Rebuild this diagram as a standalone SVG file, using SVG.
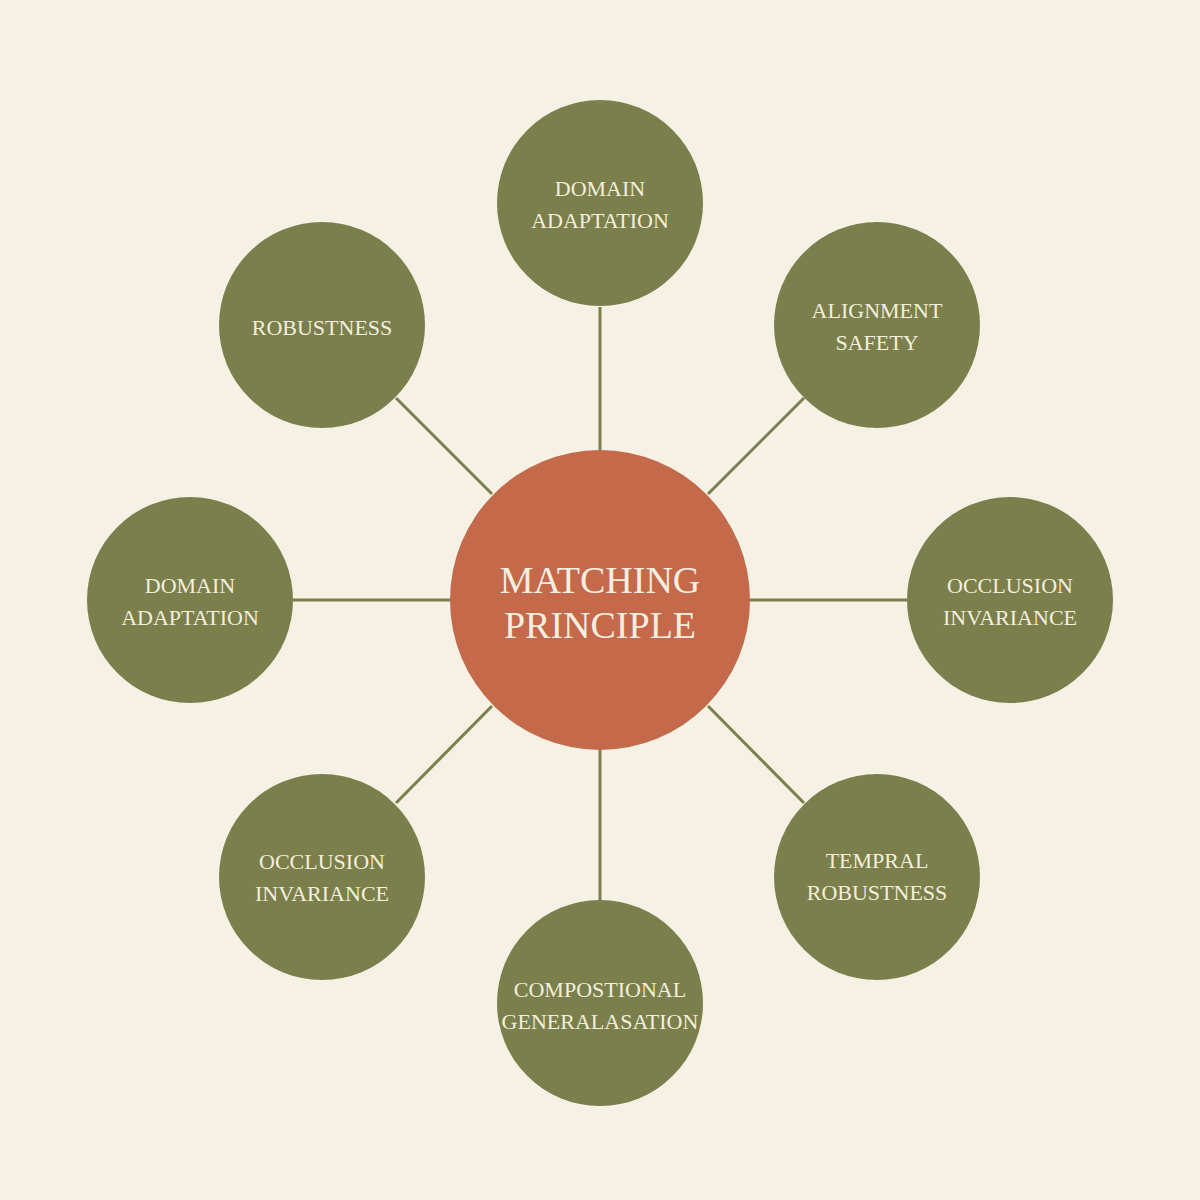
<svg xmlns="http://www.w3.org/2000/svg" width="1200" height="1200" viewBox="0 0 1200 1200">
<style>
.n{fill:#7A7F4B}
.t{font-family:"Liberation Serif",serif;font-size:22px;fill:#F3EEDD;text-anchor:middle}
.c{font-family:"Liberation Serif",serif;font-size:38px;fill:#F5EEE0;text-anchor:middle}
.l{stroke:#7A7F4B;stroke-width:3}
</style>
<rect width="1200" height="1200" fill="#F5F1E4"/>
<g id="connectors">
<line class="l" x1="600" y1="307" x2="600" y2="450"/>
<line class="l" x1="708" y1="494" x2="804" y2="398"/>
<line class="l" x1="750" y1="600" x2="907" y2="600"/>
<line class="l" x1="708" y1="706" x2="804" y2="803"/>
<line class="l" x1="600" y1="750" x2="600" y2="900"/>
<line class="l" x1="492" y1="706" x2="396" y2="803"/>
<line class="l" x1="450" y1="600" x2="293" y2="600"/>
<line class="l" x1="492" y1="494" x2="396" y2="398"/>
</g>
<g id="center"><circle cx="600" cy="600" r="150" fill="#C4694A"/><text class="c" x="600" y="593">MATCHING</text><text class="c" x="600" y="638">PRINCIPLE</text></g>
<g id="n1"><circle class="n" cx="600" cy="203" r="103"/><text class="t" x="600" y="196">DOMAIN</text><text class="t" x="600" y="228">ADAPTATION</text></g>
<g id="n2"><circle class="n" cx="877" cy="325" r="103"/><text class="t" x="877" y="318">ALIGNMENT</text><text class="t" x="877" y="350">SAFETY</text></g>
<g id="n3"><circle class="n" cx="1010" cy="600" r="103"/><text class="t" x="1010" y="593">OCCLUSION</text><text class="t" x="1010" y="625">INVARIANCE</text></g>
<g id="n4"><circle class="n" cx="877" cy="877" r="103"/><text class="t" x="877" y="868">TEMPRAL</text><text class="t" x="877" y="900">ROBUSTNESS</text></g>
<g id="n5"><circle class="n" cx="600" cy="1003" r="103"/><text class="t" x="600" y="997">COMPOSTIONAL</text><text class="t" x="600" y="1029">GENERALASATION</text></g>
<g id="n6"><circle class="n" cx="322" cy="877" r="103"/><text class="t" x="322" y="869">OCCLUSION</text><text class="t" x="322" y="901">INVARIANCE</text></g>
<g id="n7"><circle class="n" cx="190" cy="600" r="103"/><text class="t" x="190" y="593">DOMAIN</text><text class="t" x="190" y="625">ADAPTATION</text></g>
<g id="n8"><circle class="n" cx="322" cy="325" r="103"/><text class="t" x="322" y="335">ROBUSTNESS</text></g>
</svg>
